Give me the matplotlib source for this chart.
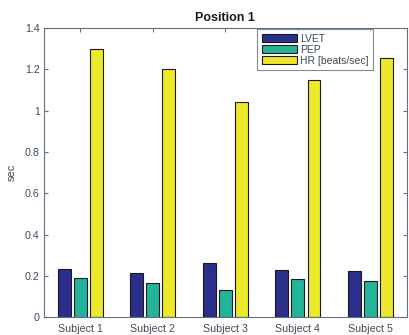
import matplotlib
matplotlib.use("Agg")
import matplotlib.pyplot as plt
import numpy as np

subjects = ["Subject 1", "Subject 2", "Subject 3", "Subject 4", "Subject 5"]
lvet = [0.234, 0.215, 0.263, 0.231, 0.226]
pep = [0.189, 0.165, 0.134, 0.183, 0.178]
hr = [1.298, 1.200, 1.040, 1.146, 1.256]
series_names = ["LVET", "PEP", "HR [beats/sec]"]
yticks = [0, 0.2, 0.4, 0.6, 0.8, 1, 1.2, 1.4]
ytick_labels = ["0", "0.2", "0.4", "0.6", "0.8", "1", "1.2", "1.4"]

plt.rcParams["font.family"] = ["Liberation Sans", "DejaVu Sans"]

colors = ["#2c2e8c", "#24b49a", "#ece82a"]
axis_color = "#5f7180"
text_color = "#3e4a56"

fig = plt.figure(figsize=(4.09, 3.35), dpi=100)
fig.patch.set_facecolor("white")
ax = fig.add_axes([0.1076, 0.0528, 0.8868, 0.8636])

x = np.arange(1, len(subjects) + 1)
offset = 0.222
width = 0.178
for i, (vals, name) in enumerate(zip([lvet, pep, hr], series_names)):
    ax.bar(x + (i - 1) * offset, vals, width, color=colors[i],
           edgecolor="#1a1a1a", linewidth=0.8, label=name, zorder=2)

ax.set_xlim(0.5, 5.5)
ax.set_ylim(0, 1.4)
ax.set_xticks(x)
ax.set_xticklabels(subjects)
ax.set_yticks(yticks)
ax.set_yticklabels(ytick_labels)

for s in ax.spines.values():
    s.set_color(axis_color)
    s.set_linewidth(0.8)
ax.tick_params(direction="in", top=True, right=True, length=3, width=0.8,
               color=axis_color, labelcolor=text_color, labelsize=7.7, pad=3)
ax.tick_params(axis="x", pad=5)

ax.set_ylabel("sec", fontsize=8, color=text_color, labelpad=6)
ax.set_title("Position 1", fontsize=9, fontweight="bold", color="#1a1a1a", pad=5)

leg = ax.legend(loc="upper left", bbox_to_anchor=(0.587, 0.997), fontsize=7.5,
                frameon=True, fancybox=False, handlelength=3.4, handleheight=0.9,
                labelspacing=0.1, borderpad=0.45, handletextpad=0.3,
                borderaxespad=0)
leg.get_frame().set_edgecolor(axis_color)
leg.get_frame().set_linewidth(0.8)
for t in leg.get_texts():
    t.set_color(text_color)

fig.savefig("out.png", dpi=100)
